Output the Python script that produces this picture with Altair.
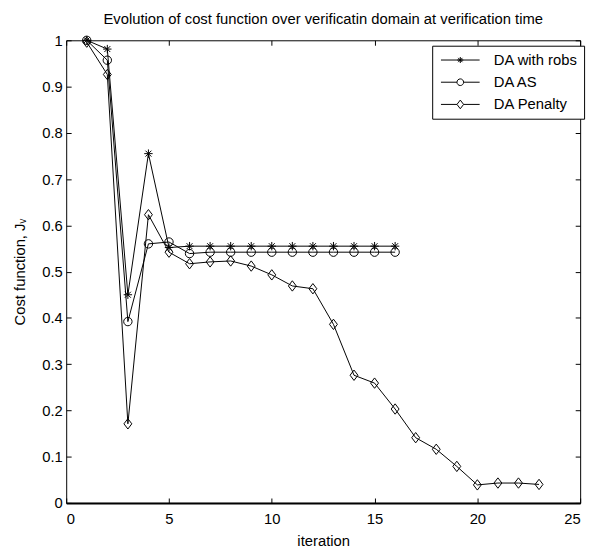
import altair as alt
import pandas as pd

series_names = ["DA with robs", "DA AS", "DA Penalty"]

iter_robs = list(range(1, 17))
cost_robs = [1.0, 0.981, 0.450, 0.755, 0.552, 0.555, 0.555, 0.555, 0.555, 0.555,
             0.555, 0.555, 0.555, 0.555, 0.555, 0.555]

iter_as = list(range(1, 17))
cost_as = [1.0, 0.957, 0.392, 0.560, 0.564, 0.539, 0.542, 0.542, 0.542, 0.542,
           0.542, 0.542, 0.542, 0.542, 0.542, 0.542]

iter_pen = list(range(1, 24))
cost_pen = [0.996, 0.926, 0.171, 0.623, 0.542, 0.517, 0.521, 0.523, 0.512, 0.493,
            0.469, 0.463, 0.386, 0.276, 0.259, 0.203, 0.141, 0.116, 0.079, 0.039,
            0.043, 0.043, 0.040]

x_ticks = [0, 5, 10, 15, 20, 25]
y_ticks = [0, 0.1, 0.2, 0.3, 0.4, 0.5, 0.6, 0.7, 0.8, 0.9, 1.0]

rows = []
for name, xs, ys in zip(series_names, [iter_robs, iter_as, iter_pen],
                        [cost_robs, cost_as, cost_pen]):
    for i, (a, b) in enumerate(zip(xs, ys)):
        rows.append({"series": name, "iteration": a, "cost": b, "order": i})
df = pd.DataFrame(rows)

FONT = "Liberation Sans"

xscale = alt.Scale(domain=[0, 25], nice=False, zero=False)
yscale = alt.Scale(domain=[0, 1], nice=False)

# plot markers (unit = 5 px at size 100)
marker_paths = [
    "M0,-0.85V0.85M-0.85,0H0.85M-0.6,-0.6L0.6,0.6M-0.6,0.6L0.6,-0.6",
    "M0.85,0A0.85,0.85 0 1,1 -0.85,0A0.85,0.85 0 1,1 0.85,0Z",
    "M0,-1.05L0.8,0L0,1.05L-0.8,0Z",
]
# legend symbols: line + marker
legend_paths = [
    "M-2.45,0H2.45M0,-0.38V0.38M-0.38,0H0.38M-0.27,-0.27L0.27,0.27M-0.27,0.27L0.27,-0.27",
    "M-2.45,0H-0.42M0.42,0H2.45M0.42,0A0.42,0.42 0 1,1 -0.42,0A0.42,0.42 0 1,1 0.42,0Z",
    "M-2.45,0H-0.42M0.42,0H2.45M0,-0.55L0.42,0L0,0.55L-0.42,0Z",
]

base = alt.Chart(df)

lines = base.mark_line(color="black", strokeWidth=1).encode(
    x=alt.X("iteration:Q", scale=xscale,
            axis=alt.Axis(orient="bottom", values=x_ticks, ticks=False, labelPadding=9,
                          domainWidth=2, title="iteration", titlePadding=7)),
    y=alt.Y("cost:Q", scale=yscale,
            axis=alt.Axis(orient="left", values=y_ticks, format="~g", ticks=False,
                          labelPadding=4, domain=False, title="Cost function, J\u1d65",
                          titlePadding=14)),
    detail="series:N",
    order="order:Q",
)

points = base.mark_point(filled=False, color="black", strokeWidth=1, size=100, opacity=1).encode(
    x=alt.X("iteration:Q", scale=xscale,
            axis=alt.Axis(orient="bottom", offset=-5, values=x_ticks, tickSize=5,
                          labels=False, domain=False, title=None)),
    y=alt.Y("cost:Q", scale=yscale,
            axis=alt.Axis(orient="left", offset=-5, values=y_ticks, tickSize=5,
                          labels=False, domain=False, title=None)),
    shape=alt.Shape("series:N", scale=alt.Scale(domain=series_names, range=marker_paths),
                    legend=None),
)

legend_layer = base.mark_point(filled=False, color="black", strokeWidth=1, opacity=0).encode(
    x=alt.X("iteration:Q", scale=xscale,
            axis=alt.Axis(orient="top", offset=-5, values=x_ticks, tickSize=5,
                          labels=False, domain=False, title=None)),
    y=alt.Y("cost:Q", scale=yscale,
            axis=alt.Axis(orient="right", offset=-5, values=y_ticks, tickSize=5,
                          labels=False, domain=False, title=None)),
    shape=alt.Shape("series:N", scale=alt.Scale(domain=series_names, range=legend_paths),
                    legend=alt.Legend(title=None, orient="none", legendX=371, legendY=5.5,
                                      symbolSize=256, symbolOpacity=1,
                                      symbolStrokeColor="black", symbolFillColor="transparent",
                                      symbolStrokeWidth=1, symbolOffset=14,
                                      labelOffset=25.5, rowPadding=5.5, padding=6,
                                      strokeColor="black", fillColor="white",
                                      cornerRadius=0, labelFont=FONT, labelFontSize=15,
                                      labelColor="black")),
)

chart = alt.layer(lines, points, legend_layer).resolve_scale(
    shape="independent"
).resolve_axis(
    x="independent", y="independent"
).properties(
    width=521,
    height=469,
    title=alt.TitleParams(
        "Evolution of cost function over verificatin domain at verification time",
        font=FONT, fontSize=15, fontWeight="normal", color="black", anchor="middle",
        offset=7),
    padding={"left": 59, "top": 29, "right": 11, "bottom": 46},
    autosize=alt.AutoSizeParams(type="none"),
).configure_view(
    stroke="black", strokeWidth=1
).configure_axis(
    labelFont=FONT, labelFontSize=15, titleFont=FONT, titleFontSize=15,
    titleFontWeight="normal", labelColor="black", titleColor="black",
    tickColor="black", domainColor="black", grid=False
)

chart.save("out.html", embed_options={"renderer": "svg", "actions": False})
